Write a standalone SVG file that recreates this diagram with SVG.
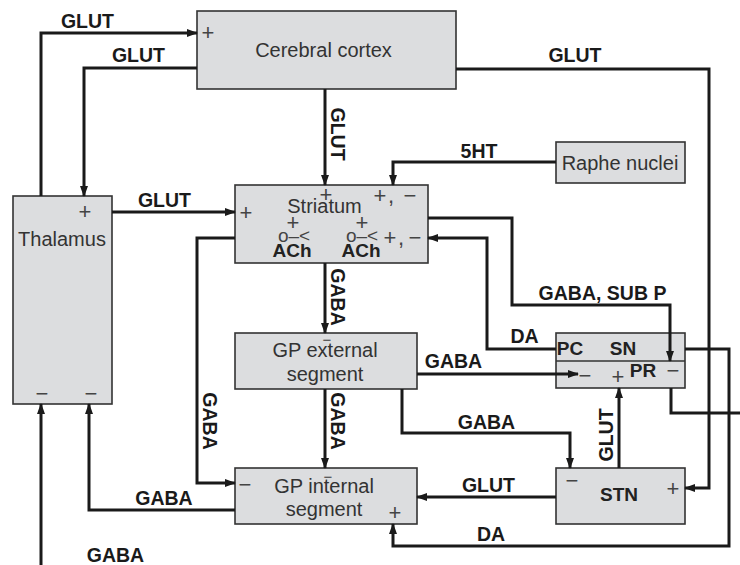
<svg xmlns="http://www.w3.org/2000/svg" width="740" height="565" viewBox="0 0 740 565">
<defs>
<marker id="ah" markerUnits="userSpaceOnUse" markerWidth="11" markerHeight="9" refX="10" refY="4" orient="auto">
<path d="M0,0 L11,4 L0,8 z" fill="#1a1a1a"/>
</marker>
<style>
.box{fill:#dcdddf;stroke:#333;stroke-width:1.6}
.nt{font-family:"Liberation Sans",Arial,sans-serif;font-size:20px;fill:#333;text-anchor:middle}
.bt{font-family:"Liberation Sans",Arial,sans-serif;font-size:19px;font-weight:bold;fill:#222;text-anchor:middle}
.sg{font-family:"Liberation Sans",Arial,sans-serif;font-size:22px;fill:#444;text-anchor:middle}
.sy{font-family:"Liberation Sans",Arial,sans-serif;font-size:19px;fill:#444;text-anchor:middle}
.sm{font-family:"Liberation Sans",Arial,sans-serif;font-size:15px;fill:#444;text-anchor:middle}
.lb{font-family:"Liberation Sans",Arial,sans-serif;font-size:19.5px;font-weight:bold;fill:#1a1a1a;text-anchor:middle}
.ln{fill:none;stroke:#1a1a1a;stroke-width:3;stroke-linejoin:miter}
.ar{marker-end:url(#ah)}
</style>
</defs>
<rect width="740" height="565" fill="#fff"/>

<g id="cortex">
<rect class="box" x="197" y="11" width="259" height="78"/>
<text class="nt" x="323.5" y="57">Cerebral cortex</text>
<text class="sg" x="208" y="39.5">+</text>
</g>

<g id="thalamus">
<rect class="box" x="13" y="196" width="99" height="208"/>
<text class="nt" x="62" y="246">Thalamus</text>
<text class="sg" x="85" y="218.5">+</text>
<text class="sg" x="42" y="400.5">−</text>
<text class="sg" x="91" y="400.5">−</text>
</g>

<g id="raphe">
<rect class="box" x="556" y="142" width="129" height="41"/>
<text class="nt" x="620" y="170">Raphe nuclei</text>
</g>

<g id="striatum">
<rect class="box" x="235" y="185" width="193" height="78"/>
<text class="nt" x="324.5" y="213">Striatum</text>
<text class="sg" x="246" y="219.5">+</text>
<text class="sg" x="326" y="202">+</text>
<text class="sg" x="380" y="202.5">+</text>
<text class="sg" x="391" y="202.5">,</text>
<text class="sg" x="410" y="202.5">−</text>
<text class="sg" x="293" y="230">+</text>
<text class="sg" x="362" y="230">+</text>
<text class="sy" x="294" y="242">o–&lt;</text>
<text class="sy" x="362" y="242">o–&lt;</text>
<text class="sg" x="390" y="245">+</text>
<text class="sg" x="401" y="245">,</text>
<text class="sg" x="415" y="245">−</text>
<text class="bt" x="292" y="257">ACh</text>
<text class="bt" x="361" y="257">ACh</text>
</g>

<g id="gpe">
<rect class="box" x="235" y="333" width="182" height="56"/>
<text class="nt" x="325" y="357">GP external</text>
<text class="nt" x="325" y="381">segment</text>
<text class="sm" x="327" y="345">−</text>
</g>

<g id="gpi">
<rect class="box" x="235" y="468" width="182" height="56"/>
<text class="nt" x="324" y="493">GP internal</text>
<text class="nt" x="324" y="516">segment</text>
<text class="sm" x="328" y="482">−</text>
<text class="sg" x="245" y="491.5">−</text>
<text class="sg" x="395" y="519.5">+</text>
</g>

<g id="sn">
<rect class="box" x="556" y="333" width="129" height="55"/>
<line x1="556" y1="361" x2="685" y2="361" stroke="#333" stroke-width="1.6"/>
<text class="bt" x="570" y="355">PC</text>
<text class="bt" x="623" y="355">SN</text>
<text class="sg" x="585" y="382.5">−</text>
<text class="sg" x="618" y="383.5">+</text>
<text class="bt" x="643" y="377">PR</text>
<text class="sg" x="673" y="377.5">−</text>
</g>

<g id="stn">
<rect class="box" x="556" y="468" width="129" height="56"/>
<text class="bt" x="619" y="501">STN</text>
<text class="sg" x="572" y="487.5">−</text>
<text class="sg" x="673" y="495.5">+</text>
</g>

<g id="connectors">
<path class="ln ar" d="M41,196 V33 H197"/>
<path class="ln ar" d="M197,68 H84 V196"/>
<path class="ln ar" d="M325,89 V185"/>
<path class="ln ar" d="M456,69 H709 V488 H685"/>
<path class="ln ar" d="M556,162 H393 V185"/>
<path class="ln ar" d="M112,212 H235"/>
<path class="ln ar" d="M428,218 H512 V305 H670 V361"/>
<path class="ln ar" d="M556,349 H487 V238 H428"/>
<path class="ln ar" d="M325,263 V333"/>
<path class="ln ar" d="M417,374 H578"/>
<path class="ln ar" d="M325,389 V468"/>
<path class="ln ar" d="M402,389 V433 H570 V468"/>
<path class="ln ar" d="M235,238 H197 V483 H235"/>
<path class="ln ar" d="M556,497 H417"/>
<path class="ln ar" d="M619,468 V388"/>
<path class="ln ar" d="M235,510 H89 V404"/>
<path class="ln ar" d="M41,565 V404"/>
<path class="ln ar" d="M685,349 H729 V546 H393 V524"/>
<path class="ln" d="M671,388 V413 H740"/>

<text class="lb" x="87.5" y="28">GLUT</text>
<text class="lb" x="138.5" y="62">GLUT</text>
<text class="lb" x="575" y="62">GLUT</text>
<text class="lb" x="479" y="158">5HT</text>
<text class="lb" x="164.5" y="207">GLUT</text>
<text class="lb" transform="translate(331,134) rotate(90)">GLUT</text>
<text class="lb" transform="translate(331,297) rotate(90)">GABA</text>
<text class="lb" transform="translate(331,421) rotate(90)">GABA</text>
<text class="lb" transform="translate(203,421) rotate(90)">GABA</text>
<text class="lb" transform="translate(613,435) rotate(-90)">GLUT</text>
<text class="lb" x="602.5" y="300">GABA, SUB P</text>
<text class="lb" x="524.5" y="343">DA</text>
<text class="lb" x="453.5" y="368">GABA</text>
<text class="lb" x="486.5" y="429">GABA</text>
<text class="lb" x="488.5" y="492">GLUT</text>
<text class="lb" x="491" y="541">DA</text>
<text class="lb" x="164" y="505">GABA</text>
<text class="lb" x="115.5" y="562">GABA</text>
</g>
</svg>
